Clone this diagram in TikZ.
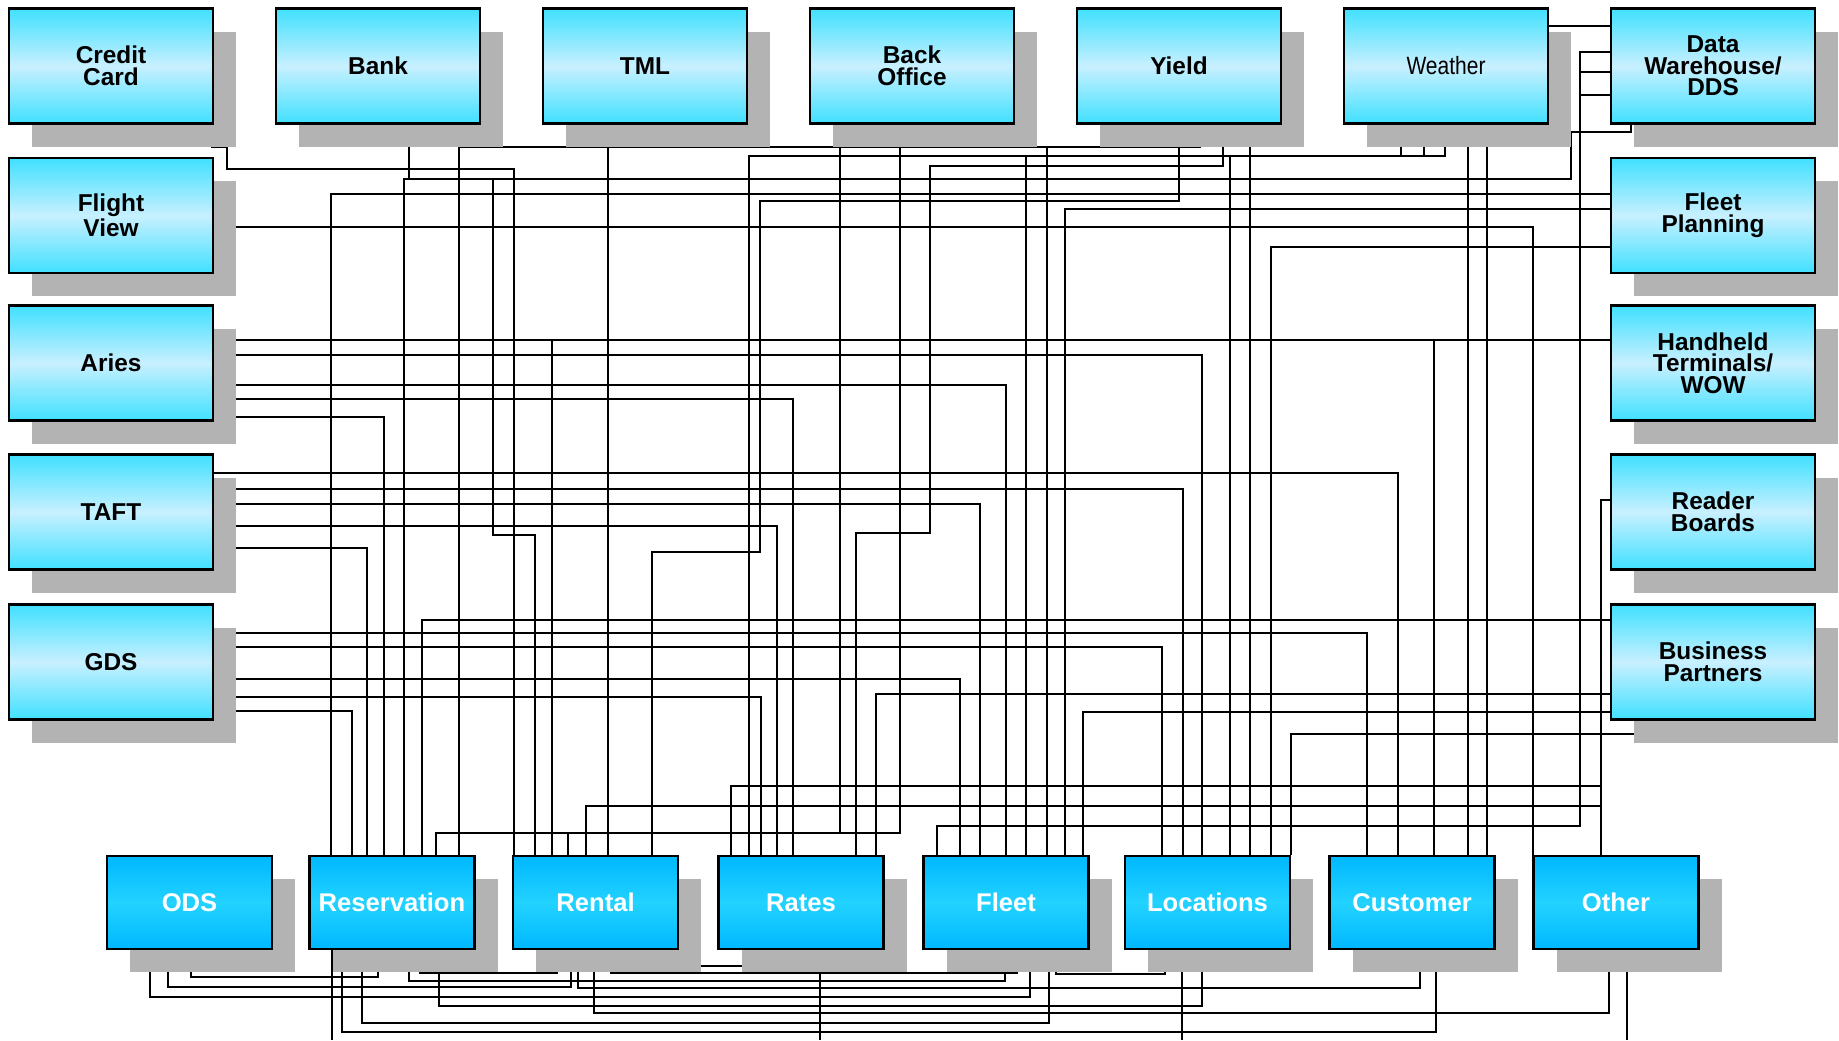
\documentclass[tikz,border=0pt]{standalone}
\usepackage{fontspec}
\setmainfont{Liberation Sans}
\usepackage{graphicx}
\usetikzlibrary{shadows,backgrounds}

\definecolor{sysTop}{RGB}{64,224,255}
\definecolor{sysMid}{RGB}{200,240,255}
\definecolor{appTop}{RGB}{0,184,255}
\definecolor{appMid}{RGB}{34,210,255}
\definecolor{shadowGray}{RGB}{179,179,179}

\tikzset{
  boxshadow/.style={drop shadow={shadow xshift=11.5pt,shadow yshift=-11.5pt,fill=shadowGray,opacity=1}},
  sysbox/.style={draw=black,line width=1.2pt,inner sep=0pt,align=center,
    minimum width=102pt,minimum height=57.5pt,
    top color=sysTop,bottom color=sysTop,middle color=sysMid,
    font=\bfseries\fontsize{12.2}{10.8}\selectfont,boxshadow},
  appbox/.style={draw=black,line width=1.2pt,inner sep=0pt,align=center,
    minimum width=82.5pt,minimum height=46.5pt,
    top color=appTop,bottom color=appTop,middle color=appMid,text=white,
    font=\bfseries\fontsize{12.8}{12}\selectfont,boxshadow},
  wire/.style={line width=1pt,black}
}

\begin{document}
\begin{tikzpicture}[x=0.5pt,y=-0.5pt]
\useasboundingbox (0,0) rectangle (1839,1040);

% Top row
\node[sysbox] (ccard) at (111,66) {Credit\\Card};
\node[sysbox] (bank) at (378,66) {Bank};
\node[sysbox] (tml) at (645,66) {TML};
\node[sysbox] (boffice) at (912,66) {Back\\Office};
\node[sysbox] (yield) at (1179,66) {Yield};
\node[sysbox,font=\fontsize{12.5}{10.8}\selectfont] (weather) at (1446,66) {\scalebox{0.84}[1]{Weather}};
\node[sysbox] (dwh) at (1713,66) {Data\\Warehouse/\\DDS};
% Left column
\node[sysbox] (fview) at (111,215.5) {Flight\\View};
\node[sysbox] (aries) at (111,363) {Aries};
\node[sysbox] (taft) at (111,512) {TAFT};
\node[sysbox] (gds) at (111,662) {GDS};
% Right column
\node[sysbox] (fplan) at (1713,215.5) {Fleet\\Planning};
\node[sysbox] (hht) at (1713,363) {Handheld\\Terminals/\\WOW};
\node[sysbox] (rboard) at (1713,512) {Reader\\Boards};
\node[sysbox] (bpart) at (1713,662) {Business\\Partners};
% Bottom row
\node[appbox] (ods) at (189.5,902.5) {ODS};
\node[appbox] (resv) at (392,902.5) {Reservation};
\node[appbox] (rental) at (595.5,902.5) {Rental};
\node[appbox] (rates) at (801,902.5) {Rates};
\node[appbox] (fleet) at (1006,902.5) {Fleet};
\node[appbox] (locs) at (1207.5,902.5) {Locations};
\node[appbox] (cust) at (1412,902.5) {Customer};
\node[appbox] (other) at (1616,902.5) {Other};

\begin{scope}[on background layer]
%Lines from the top row
\draw[wire] (212,0 |- ccard.south) |- (227,147) |- (514,169) -- (514,0 |- rental.north);
\draw[wire] (409,0 |- bank.south) -- (409,179);
\draw[wire] (608,0 |- tml.south) -- (608,0 |- rental.north);
\draw[wire] (840,0 |- boffice.south) -- (840,833);
\draw[wire] (900,0 |- boffice.south) |- (436,833) -- (436,0 |- resv.north);
\draw[wire] (568,833) -- (568,0 |- rental.north);
\draw[wire] (1200,0 |- yield.south) |- (459,147) -- (459,0 |- resv.north);
\draw[wire] (1116,0 |- yield.south) -- (1116,147);
\draw[wire] (1047,147) -- (1047,0 |- fleet.north);
\draw[wire] (1223,0 |- yield.south) |- (930,166) |- (856,533) -- (856,0 |- rates.north);
\draw[wire] (1179,0 |- yield.south) |- (760,201) |- (652,552) -- (652,0 |- rental.north);
\draw[wire] (1250,0 |- yield.south) -- (1250,0 |- locs.north);
\draw[wire] (1445,0 |- weather.south) |- (749,156) -- (749,0 |- rates.north);
\draw[wire] (1401,0 |- weather.south) -- (1401,156);
\draw[wire] (1424,0 |- weather.south) -- (1424,156);
\draw[wire] (1026,156) -- (1026,0 |- fleet.north);
\draw[wire] (1230,156) -- (1230,0 |- locs.north);
\draw[wire] (1468,0 |- weather.south) -- (1468,0 |- cust.north);
\draw[wire] (1487,0 |- weather.south) -- (1487,0 |- cust.north);
%Data Warehouse
\draw[wire] (weather.east |- 0,26) -- (dwh.west |- 0,26);
\draw[wire] (dwh.west |- 0,52) -| (1580,826) -| (937,0 |- fleet.north);
\draw[wire] (dwh.west |- 0,72) -- (1580,72);
\draw[wire] (dwh.west |- 0,95) -- (1580,95);
\draw[wire] (1631,0 |- dwh.south) |- (1571,132) |- (404,179) -- (404,0 |- resv.north);
\draw[wire] (493,179) |- (535,535) -- (535,0 |- rental.north);
%Fleet Planning, Flight View
\draw[wire] (fplan.west |- 0,194) -| (331,0 |- resv.north);
\draw[wire] (fplan.west |- 0,209) -| (1065,0 |- fleet.north);
\draw[wire] (fplan.west |- 0,247) -| (1271,0 |- locs.north);
\draw[wire] (fview.east |- 0,227) -| (1533,0 |- other.north);
%Aries
\draw[wire] (aries.east |- 0,340) -- (hht.west |- 0,340);
\draw[wire] (552,340) -- (552,0 |- rental.north);
\draw[wire] (1434,340) -- (1434,0 |- cust.north);
\draw[wire] (aries.east |- 0,355) -| (1202,0 |- locs.north);
\draw[wire] (aries.east |- 0,385) -| (1006,0 |- fleet.north);
\draw[wire] (aries.east |- 0,399) -| (793,0 |- rates.north);
\draw[wire] (aries.east |- 0,417) -| (384,0 |- resv.north);
%TAFT
\draw[wire] (taft.east |- 0,473) -| (1398,0 |- cust.north);
\draw[wire] (taft.east |- 0,489) -| (1183,0 |- locs.north);
\draw[wire] (taft.east |- 0,504) -| (980,0 |- fleet.north);
\draw[wire] (taft.east |- 0,526) -| (777,0 |- rates.north);
\draw[wire] (taft.east |- 0,548) -| (367,0 |- resv.north);
%GDS
\draw[wire] (gds.east |- 0,633) -| (1367,0 |- cust.north);
\draw[wire] (gds.east |- 0,647) -| (1162,0 |- locs.north);
\draw[wire] (gds.east |- 0,679) -| (960,0 |- fleet.north);
\draw[wire] (gds.east |- 0,697) -| (761,0 |- rates.north);
\draw[wire] (gds.east |- 0,711) -| (352,0 |- resv.north);
%Reader Boards, Business Partners
\draw[wire] (rboard.west |- 0,500) -| (1601,0 |- other.north);
\draw[wire] (bpart.west |- 0,620) -| (422,0 |- resv.north);
\draw[wire] (bpart.west |- 0,694) -| (876,0 |- rates.north);
\draw[wire] (bpart.west |- 0,712) -| (1083,0 |- fleet.north);
\draw[wire] (bpart.center |- 0,734) -| (1291,0 |- locs.north);
\draw[wire] (586,0 |- rental.north) |- (1601,806);
\draw[wire] (731,0 |- rates.north) |- (1601,786);
%Lines below the bottom row
\draw[wire] (191,0 |- ods.south) |- (378,977) -- (378,0 |- resv.south);
\draw[wire] (168,0 |- ods.south) |- (571,987) -- (571,0 |- rental.south);
\draw[wire] (150,0 |- ods.south) |- (1030,997) -- (1030,0 |- fleet.south);
\draw[wire] (332,0 |- resv.south) -- (332,1040);
\draw[wire] (342,0 |- resv.south) |- (1436,1032) -- (1436,0 |- cust.south);
\draw[wire] (362,0 |- resv.south) |- (1049,1023) -- (1049,0 |- fleet.south);
\draw[wire] (409,0 |- resv.south) |- (1005,981) -- (1005,0 |- fleet.south);
\draw[wire] (420,0 |- resv.south) |- (557,973) -- (557,0 |- rental.south);
\draw[wire] (439,0 |- resv.south) |- (1202,1006) -- (1202,0 |- locs.south);
\draw[wire] (578,0 |- rental.south) |- (1420,988) -- (1420,0 |- cust.south);
\draw[wire] (594,0 |- rental.south) |- (1609,1013) -- (1609,0 |- other.south);
\draw[wire] (611,0 |- rental.south) |- (1017,973) -- (1017,0 |- fleet.south);
\draw[wire] (rental.east |- 0,966) -- (rates.center |- 0,966);
\draw[wire] (820,0 |- rates.south) -- (820,1040);
\draw[wire] (1056,0 |- fleet.south) |- (1165,974) -- (1165,0 |- locs.south);
\draw[wire] (1182,0 |- locs.south) -- (1182,1040);
\draw[wire] (1627,0 |- other.south) -- (1627,1040);
\end{scope}

\end{tikzpicture}
\end{document}
